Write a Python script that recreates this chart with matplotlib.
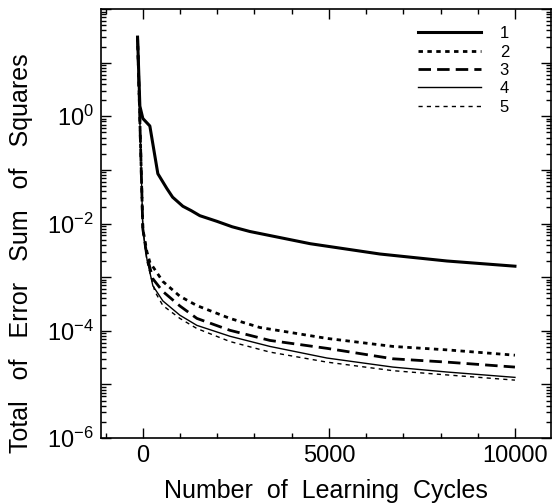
import numpy as np
import matplotlib
matplotlib.use("Agg")
import matplotlib.pyplot as plt
from matplotlib.ticker import MultipleLocator, LogLocator, NullFormatter

plt.rcParams["font.family"] = ["Liberation Sans", "DejaVu Sans"]
plt.rcParams["mathtext.fontset"] = "custom"
plt.rcParams["mathtext.rm"] = "Liberation Sans"
plt.rcParams["mathtext.default"] = "rm"

# curve 1
cycles_1 = [-142, -80, 0, 188, 403, 645, 800, 1075, 1300, 1532, 1989, 2400,
            2876, 4500, 6371, 8172, 10000]
error_1 = [30, 1.55, 0.91, 0.66, 0.085, 0.045, 0.031, 0.021, 0.0174, 0.014,
           0.011, 0.0087, 0.0071, 0.0042, 0.0027, 0.0020, 0.0016]

# curve 2
cycles_2 = [-142, 0, 108, 188, 538, 995, 1452, 2339, 3145, 4946, 6720, 8172,
            10000]
error_2 = [30, 0.0079, 0.0030, 0.0019, 8.3e-4, 4.4e-4, 2.95e-4, 1.7e-4,
           1.15e-4, 7.2e-5, 5.1e-5, 4.4e-5, 3.5e-5]

# curve 3
cycles_3 = [-142, 0, 108, 269, 538, 995, 1452, 2339, 3414, 4946, 6720, 8172,
            10000]
error_3 = [30, 0.0079, 0.0025, 9.3e-4, 5.4e-4, 2.9e-4, 1.7e-4, 1.02e-4,
           6.6e-5, 4.7e-5, 3.0e-5, 2.6e-5, 2.1e-5]

# curve 4
cycles_4 = [-142, 0, 108, 269, 538, 995, 1452, 2339, 3414, 4946, 6720, 8172,
            10000]
error_4 = [30, 0.0079, 0.0022, 6.9e-4, 3.6e-4, 1.95e-4, 1.26e-4, 7.9e-5,
           5.1e-5, 3.1e-5, 2.1e-5, 1.7e-5, 1.35e-5]

# curve 5
cycles_5 = [-142, 0, 108, 323, 538, 995, 1452, 2339, 3414, 4946, 6720, 8172,
            10000]
error_5 = [30, 0.0079, 0.0020, 5.4e-4, 2.95e-4, 1.7e-4, 1.1e-4, 6.3e-5,
           4.0e-5, 2.6e-5, 1.8e-5, 1.5e-5, 1.2e-5]

labels = ["1", "2", "3", "4", "5"]
ytick_values = [1e-6, 1e-5, 1e-4, 1e-3, 1e-2, 1e-1, 1e0, 1e1, 1e2]
ytick_labels = [r"$10^{-6}$", "", r"$10^{-4}$", "", r"$10^{-2}$", "",
                r"$10^{0}$", "", ""]
xtick_values = [0, 5000, 10000]

fig = plt.figure(figsize=(5.6, 5.04), dpi=100)
ax = fig.add_axes([0.180, 0.131, 0.804, 0.851])

ax.plot(cycles_1, error_1, color="black", lw=2.2, ls="-", label=labels[0])
ax.plot(cycles_2, error_2, color="black", lw=2.0, ls=(0, (1.6, 1.6)),
        label=labels[1])
ax.plot(cycles_3, error_3, color="black", lw=2.0, ls=(0, (4.5, 2.2)),
        label=labels[2])
ax.plot(cycles_4, error_4, color="black", lw=1.0, ls="-", label=labels[3])
ax.plot(cycles_5, error_5, color="black", lw=1.0, ls=(0, (3, 3)),
        label=labels[4])

ax.set_yscale("log")
ax.set_xlim(-1130, 10970)
ax.set_ylim(1e-6, 1e2)

ax.set_yticks(ytick_values)
ax.set_yticklabels(ytick_labels)
ax.yaxis.set_minor_locator(LogLocator(base=10, subs=np.arange(2, 10), numticks=20))
ax.yaxis.set_minor_formatter(NullFormatter())
ax.set_xticks(xtick_values)
ax.xaxis.set_minor_locator(MultipleLocator(1000))

ax.tick_params(which="both", direction="in", top=True, right=True,
               labelsize=17, width=1.0)
ax.tick_params(which="major", length=7, pad=5)
ax.tick_params(which="minor", length=3.5)
for s in ax.spines.values():
    s.set_linewidth(1.2)

ax.set_xlabel("Number  of  Learning  Cycles", fontsize=18, labelpad=9)
ax.set_ylabel("Total   of   Error   Sum   of   Squares", fontsize=18)
ax.yaxis.set_label_coords(-0.15, 0.43)

ax.legend(loc="upper right", frameon=False, fontsize=12, handlelength=3.8,
          handletextpad=1.1, labelspacing=0.2, bbox_to_anchor=(0.94, 0.995))

fig.savefig("out.png", dpi=100)
